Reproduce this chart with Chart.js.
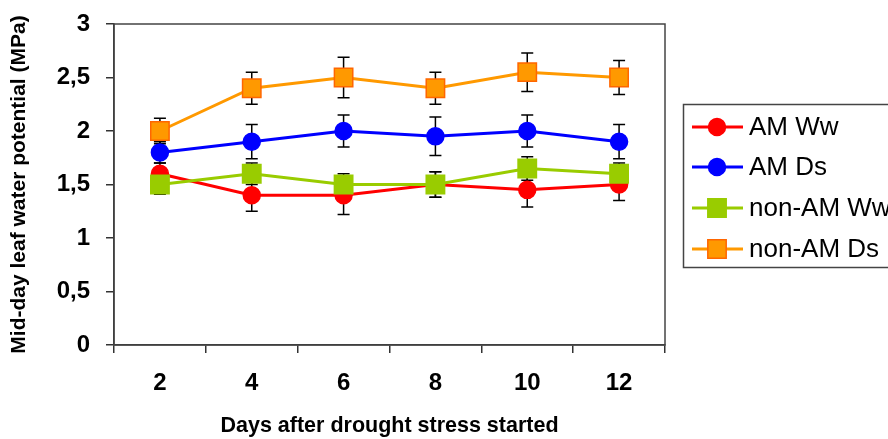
<!DOCTYPE html>
<html>
<head>
<meta charset="utf-8">
<script src="https://cdn.jsdelivr.net/npm/chart.js@4"></script>
<style>
  html, body { margin: 0; padding: 0; background: #fff; }
  #wrap { width: 888px; height: 439px; }
</style>
</head>
<body>
<div id="wrap"><canvas id="chart" width="888" height="439"></canvas></div>
<script>
const days = ['2', '4', '6', '8', '10', '12'];

const amWw = [1.6, 1.4, 1.4, 1.5, 1.45, 1.5];
const amWwErr = [0.1, 0.15, 0.18, 0.12, 0.16, 0.15];
const amDs = [1.8, 1.9, 2.0, 1.95, 2.0, 1.9];
const amDsErr = [0.1, 0.16, 0.15, 0.18, 0.15, 0.16];
const nonAmWw = [1.5, 1.6, 1.5, 1.5, 1.65, 1.6];
const nonAmWwErr = [0.09, 0.1, 0.1, 0.12, 0.11, 0.1];
const nonAmDs = [2.0, 2.4, 2.5, 2.4, 2.55, 2.5];
const nonAmDsErr = [0.12, 0.15, 0.19, 0.15, 0.18, 0.16];

const FONT = "'Liberation Sans', Arial, sans-serif";

const series = (label, data, err, color, style, border, order) => ({
    label: label,
    data: data,
    errors: err,
    borderColor: color,
    backgroundColor: color,
    borderWidth: 3,
    pointStyle: style,
    pointRadius: style === 'rect' ? 13 : 8.5,
    pointBackgroundColor: color,
    pointBorderColor: border,
    pointBorderWidth: 1.5,
    tension: 0,
    order: order
});

// error bars, drawn under the markers
const errorBars = {
    id: 'errorBars',
    beforeDatasetsDraw(chart) {
        const ctx = chart.ctx;
        const y = chart.scales.y;
        ctx.save();
        ctx.strokeStyle = '#000';
        ctx.lineWidth = 1.5;
        chart.data.datasets.forEach((ds, i) => {
            const meta = chart.getDatasetMeta(i);
            meta.data.forEach((pt, j) => {
                const v = ds.data[j], e = ds.errors[j];
                const top = y.getPixelForValue(v + e);
                const bot = y.getPixelForValue(v - e);
                ctx.beginPath();
                ctx.moveTo(pt.x, top); ctx.lineTo(pt.x, bot);
                ctx.moveTo(pt.x - 6, top); ctx.lineTo(pt.x + 6, top);
                ctx.moveTo(pt.x - 6, bot); ctx.lineTo(pt.x + 6, bot);
                ctx.stroke();
            });
        });
        ctx.restore();
    }
};

// plot frame + boxed legend on the right
const frameAndLegend = {
    id: 'frameAndLegend',
    afterDraw(chart) {
        const ctx = chart.ctx;
        const a = chart.chartArea;
        ctx.save();
        ctx.strokeStyle = '#444';
        ctx.lineWidth = 1.5;
        ctx.strokeRect(a.left, a.top, a.right - a.left, a.bottom - a.top);

        ctx.strokeRect(683.5, 104.5, 230, 163);
        const rows = [127, 167, 208, 249];
        ctx.font = "26px " + FONT;
        ctx.textBaseline = 'middle';
        chart.data.datasets.forEach((ds, i) => {
            const yy = rows[i];
            ctx.strokeStyle = ds.borderColor;
            ctx.lineWidth = 3;
            ctx.beginPath();
            ctx.moveTo(692, yy); ctx.lineTo(743, yy);
            ctx.stroke();
            ctx.fillStyle = ds.pointBackgroundColor;
            ctx.strokeStyle = ds.pointBorderColor;
            ctx.lineWidth = ds.pointBorderWidth;
            ctx.beginPath();
            if (ds.pointStyle === 'rect') {
                const s = ds.pointRadius * Math.SQRT1_2;
                ctx.rect(717 - s, yy - s, 2 * s, 2 * s);
            } else {
                ctx.arc(717, yy, ds.pointRadius, 0, Math.PI * 2);
            }
            ctx.fill();
            ctx.stroke();
            ctx.fillStyle = '#000';
            ctx.fillText(ds.label, 749, yy + 1);
        });
        ctx.restore();
    }
};

new Chart(document.getElementById('chart').getContext('2d'), {
    type: 'line',
    data: {
        labels: days,
        datasets: [
            series('AM Ww', amWw, amWwErr, '#FF0000', 'circle', '#FF0000', 4),
            series('AM Ds', amDs, amDsErr, '#0000FF', 'circle', '#0000FF', 3),
            series('non-AM Ww', nonAmWw, nonAmWwErr, '#99CC00', 'rect', '#99CC00', 2),
            series('non-AM Ds', nonAmDs, nonAmDsErr, '#FF9900', 'rect', '#FF6600', 1)
        ]
    },
    options: {
        responsive: false,
        animation: false,
        devicePixelRatio: 1,
        layout: { padding: { left: 0, right: 223, top: 24, bottom: 0 } },
        plugins: {
            legend: { display: false },
            tooltip: { enabled: false }
        },
        scales: {
            x: {
                offset: true,
                grid: { offset: true, drawOnChartArea: false, tickLength: 8, color: '#333', lineWidth: 1.5 },
                border: { color: '#333', width: 1.5 },
                ticks: { color: '#000', padding: 16, font: { family: FONT, size: 24, weight: 'bold' } },
                title: {
                    display: true,
                    text: 'Days after drought stress started',
                    color: '#000',
                    padding: { top: 0, bottom: 0 },
                    font: { family: FONT, size: 21.5, weight: 'bold' }
                },
                afterFit: (scale) => { scale.height = 94; scale.paddingLeft = 0; scale.paddingRight = 0; }
            },
            y: {
                min: 0,
                max: 3,
                grid: { drawOnChartArea: false, tickLength: 8, color: '#333', lineWidth: 1.5 },
                border: { color: '#333', width: 1.5 },
                ticks: {
                    stepSize: 0.5,
                    color: '#000',
                    padding: 16,
                    font: { family: FONT, size: 24, weight: 'bold' },
                    callback: (v) => String(v).replace('.', ',')
                },
                title: {
                    display: true,
                    text: 'Mid-day leaf water potential (MPa)',
                    color: '#000',
                    padding: { top: 7, bottom: 0 },
                    font: { family: FONT, size: 21, weight: 'bold' }
                },
                afterFit: (scale) => { scale.width = 114; scale.paddingTop = 0; scale.paddingBottom = 0; }
            }
        }
    },
    plugins: [errorBars, frameAndLegend]
});
</script>
</body>
</html>
